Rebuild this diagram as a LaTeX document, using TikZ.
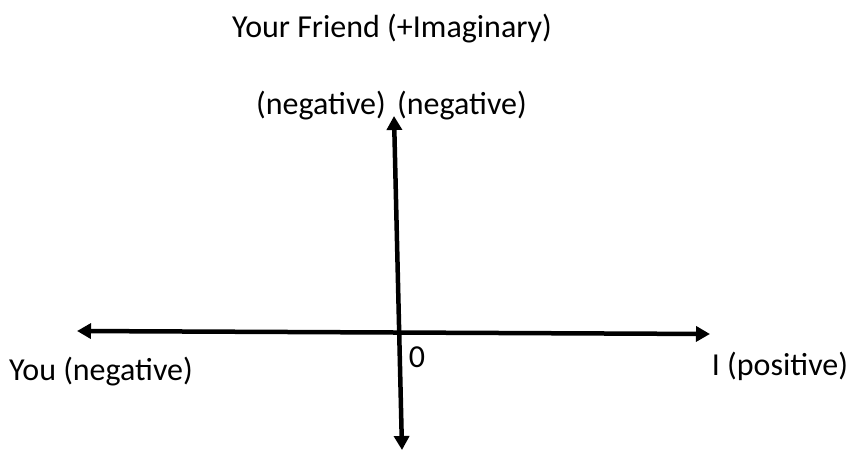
\documentclass[tikz,border=0pt]{standalone}
\usepackage{fontspec}
\setmainfont{Carlito}
\usepackage{tikz}
\usetikzlibrary{arrows.meta}

\tikzset{
  axis/.style={line width=4.5pt, {Triangle[length=14pt,width=15pt]}-{Triangle[length=14pt,width=15pt]}},
  lbl/.style={inner sep=0pt, font=\fontsize{32}{38}\selectfont}
}

\begin{document}
\begin{tikzpicture}[x=1pt, y=-1pt]

%---------------------------------------
% Frame
%---------------------------------------
\useasboundingbox (0,0) rectangle (852,452);

%---------------------------------------
% Axis end points
%---------------------------------------
\coordinate (west)  at (77,331);
\coordinate (east)  at (710,334);
\coordinate (north) at (394,116);
\coordinate (south) at (402,450);

% Axes
\draw[axis] (west) -- (east);
\draw[axis] (north) -- (south);

% ---- Labels ----
\node[lbl] (friend) at (392,29)  {Your Friend (+Imaginary)};
\node[lbl] (negl)   at (321,106) {(negative)};
\node[lbl] (negr)   at (462,106) {(negative)};
\node[lbl] (you)    at (101,372) {You (negative)};
\node[lbl] (me)     at (780,366) {I (positive)};
\node[lbl] (zero)   at (417,357) {0};

\end{tikzpicture}
\end{document}
